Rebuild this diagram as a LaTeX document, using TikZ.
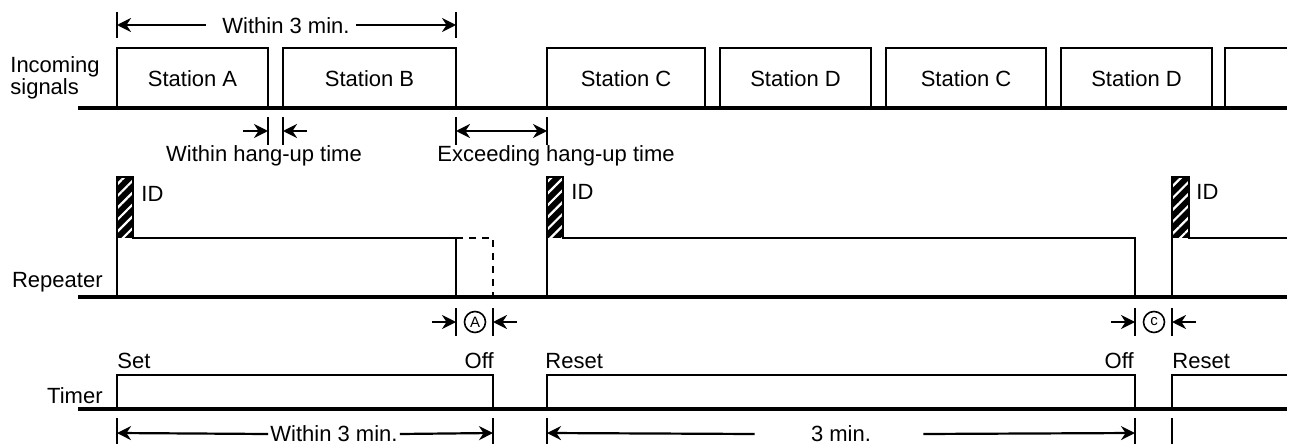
\documentclass[tikz,border=0pt]{standalone}
\usepackage{fontspec}
\setmainfont{Liberation Sans}
\usetikzlibrary{arrows.meta, patterns.meta}

\begin{document}
\begin{tikzpicture}[x=0.5pt, y=-0.5pt, >={Stealth[length=7pt, width=7pt]},
    sig/.style={line width=1.25pt, line join=miter},
    baseln/.style={line width=1.6pt},
    dim/.style={line width=1.1pt},
    lbl/.style={font=\fontsize{11}{10}\selectfont, inner sep=0pt},
    idbar/.style={fill=black, postaction={pattern={Lines[angle=45, distance=4.2pt, line width=1.1pt]}, pattern color=white}},
    gapmark/.style={circle, draw, line width=0.8pt, inner sep=0pt, minimum size=10.5pt, font=\fontsize{7.5}{8}\selectfont}]
% ============================================================
% x, y in image pixels (y downwards), 1 px = 0.5 pt
% ============================================================
\useasboundingbox (0,0) rectangle (1296,444);

% === BASELINES ===
\foreach \yb in {108,297,409} {
  \draw[baseln] (78,\yb) -- (1287,\yb);
}

% === 1. INCOMING SIGNALS ===
\node[lbl, align=left, anchor=west] (insig) at (10,78) {Incoming\\signals};
\foreach \xa/\xb/\st [count=\i] in {117/268/A, 283/456/B, 547/705/C, 720/871/D, 886/1046/C, 1061/1212/D} {
  \draw[sig] (\xa,108) -- (\xa,48) -- (\xb,48) -- (\xb,108);
  \node[lbl] (st\i) at ({(\xa+\xb)/2},79) {Station \st};
}
\draw[sig] (1225,108) -- (1225,48) -- (1287,48);

% === 2. WITHIN 3 MIN. (top) ===
\draw[dim] (117,12) -- (117,38);
\draw[dim] (456,12) -- (456,38);
\coordinate (topL) at (117,25);
\coordinate (topR) at (456,25);
\node[lbl] (w3top) at (286,26) {Within 3 min.};
\draw[dim, ->] ([xshift=-8pt]w3top.west |- topL) -- (topL);
\draw[dim, ->] ([xshift=3pt]w3top.east |- topR) -- (topR);

% === 3. HANG-UP TIME ===
\foreach \xt in {268,283,456,547} {
  \draw[dim] (\xt,117) -- (\xt,145);
}
\draw[dim, ->] (243,131) -- (268,131);
\draw[dim, ->] (307,131) -- (283,131);
\draw[dim, <->] (456,131) -- (547,131);
\node[lbl, anchor=base] (hwithin) at (264,162) {Within hang-up time};
\node[lbl, anchor=base west] (hexceed) at (437,162) {Exceeding hang-up time};

% === 4. REPEATER ===
\node[lbl, anchor=base east] (rep) at (103,287) {Repeater};
\foreach \xi/\w in {117/16, 547/16, 1172/17} {
  \path[idbar] (\xi,177) rectangle ++(\w,61);
}
\draw[sig] (117,297) -- (117,177) -- (133,177) -- (133,238) -- (456,238) -- (456,297);
\draw[sig, dash pattern=on 3.5pt off 3pt] (456,238) -- (493,238) -- (493,297);
\draw[sig] (547,297) -- (547,177) -- (563,177) -- (563,238) -- (1135,238) -- (1135,297);
\draw[sig] (1172,297) -- (1172,177) -- (1189,177) -- (1189,238) -- (1287,238);
\node[lbl, anchor=base west] (id1) at (141,201) {ID};
\node[lbl, anchor=base west] (id2) at (571,199) {ID};
\node[lbl, anchor=base west] (id3) at (1196,199) {ID};

% === 5. GAPS A and C ===
\foreach \xt in {456,493,1135,1172} {
  \draw[dim] (\xt,308) -- (\xt,336);
}
\draw[dim, ->] (432,322) -- (456,322);
\draw[dim, ->] (517,322) -- (493,322);
\node[gapmark] (gapA) at (475,322) {A};
\draw[dim, ->] (1111,322) -- (1135,322);
\draw[dim, ->] (1196,322) -- (1172,322);
\node[gapmark] (gapC) at (1154,322) {c};

% === 6. TIMER ===
\node[lbl, anchor=base east] (tim) at (103,403) {Timer};
\draw[sig] (117,409) -- (117,375) -- (493,375) -- (493,409);
\draw[sig] (547,409) -- (547,375) -- (1135,375) -- (1135,409);
\draw[sig] (1172,409) -- (1172,375) -- (1287,375);
\node[lbl, anchor=base west] (tset) at (117,368) {Set};
\node[lbl, anchor=base east] (toff1) at (494,368) {Off};
\node[lbl, anchor=base west] (treset1) at (545,368) {Reset};
\node[lbl, anchor=base east] (toff2) at (1134,368) {Off};
\node[lbl, anchor=base west] (treset2) at (1172,368) {Reset};

% === 7. WITHIN 3 MIN. / 3 MIN. (bottom) ===
\foreach \xt in {117,493,547,1135,1172} {
  \draw[dim] (\xt,418) -- (\xt,445);
}
\node[lbl] (w3bot) at (334,434) {Within 3 min.};
\draw[dim, ->] ([xshift=-1pt]w3bot.west) -- (117,433);
\draw[dim, ->] ([xshift=1pt]w3bot.east) -- (493,433);
\node[lbl] (m3) at (841,434) {3 min.};
\draw[dim, ->] ([xshift=-28pt]m3.west) -- (547,433);
\draw[dim, ->] ([xshift=26pt]m3.east) -- (1135,433);

\end{tikzpicture}
\end{document}
